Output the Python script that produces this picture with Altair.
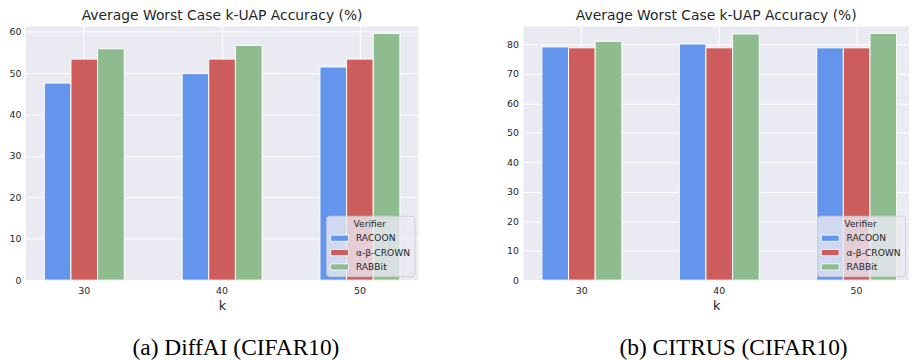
import altair as alt
import pandas as pd

# ---- data ----
k_values = ["30", "40", "50"]
verifiers = ["RACOON", "α-β-CROWN", "RABBit"]
colors = ["#6495ED", "#CD5C5C", "#8FBC8F"]

diffai_racoon = [47.6, 49.9, 51.5]
diffai_crown = [53.4, 53.4, 53.4]
diffai_rabbit = [55.9, 56.7, 59.6]

citrus_racoon = [79.1, 80.1, 78.8]
citrus_crown = [78.8, 78.8, 78.8]
citrus_rabbit = [81.0, 83.5, 83.7]

title_text = "Average Worst Case k-UAP Accuracy (%)"
caption_a = "(a) DiffAI (CIFAR10)"
caption_b = "(b) CITRUS (CIFAR10)"
yticks_a = [0, 10, 20, 30, 40, 50, 60]
yticks_b = [0, 10, 20, 30, 40, 50, 60, 70, 80]

TXT = "#262626"
BG = "#EAEAF2"
FONT = "DejaVu Sans"
H = 256


def make_df(racoon, crown, rabbit):
    rows = []
    for i, k in enumerate(k_values):
        for v, vals in zip(verifiers, [racoon, crown, rabbit]):
            rows.append({"k": k, "Verifier": v, "acc": vals[i]})
    return pd.DataFrame(rows)


def panel(df, ymax, yticks, width, pad_outer, align, caption, cap_x):
    x_scale = alt.Scale(domain=k_values, paddingInner=0.42,
                        paddingOuter=pad_outer, align=align)
    bars = alt.Chart(df).mark_bar(stroke="white", strokeWidth=1).encode(
        x=alt.X("k:N", scale=x_scale, sort=k_values,
                axis=alt.Axis(title="k", labelAngle=0, bandPosition=0.5,
                              labelPadding=5, titlePadding=5,
                              titleFontSize=13, titleFontWeight="normal")),
        xOffset=alt.XOffset("Verifier:N", sort=verifiers,
                            scale=alt.Scale(domain=verifiers, paddingInner=0,
                                            paddingOuter=0)),
        y=alt.Y("acc:Q", scale=alt.Scale(domain=[0, ymax], nice=False, zero=True),
                axis=alt.Axis(title=None, values=yticks, labelPadding=5)),
        color=alt.Color(
            "Verifier:N", sort=verifiers,
            scale=alt.Scale(domain=verifiers, range=colors),
            legend=alt.Legend(
                title="Verifier", orient="bottom-right", offset=4,
                fillColor="rgba(234,234,242,0.8)",
                strokeColor="rgba(204,204,204,0.8)",
                padding=4, cornerRadius=3,
                titleFont=FONT, titleFontSize=9.2, titleFontWeight="normal",
                titleColor=TXT, titleAnchor="middle", titlePadding=4,
                labelFont=FONT, labelFontSize=9.2, labelColor=TXT,
                symbolType="M-1,-0.62H2.6V0.62H-1Z", symbolSize=100,
                symbolStrokeColor="white", symbolStrokeWidth=0.8,
                symbolOpacity=1, labelOffset=15, rowPadding=3.5,
            ),
        ),
    )
    cap = alt.Chart(pd.DataFrame({"caption": [caption]})).mark_text(
        font="Liberation Serif", fontSize=23.6, color="black",
        align="center", baseline="alphabetic",
    ).encode(text="caption:N", x=alt.value(cap_x), y=alt.value(H + 76))
    return alt.layer(bars, cap).properties(
        width=width, height=H,
        title=alt.Title(title_text, font=FONT, fontSize=14,
                        fontWeight="normal", color=TXT, offset=3,
                        anchor="middle"),
    )


left = panel(make_df(diffai_racoon, diffai_crown, diffai_rabbit),
             61.3, yticks_a, 396, 0.134, 0.5, caption_a, 212)
right = panel(make_df(citrus_racoon, citrus_crown, citrus_rabbit),
              86.06, yticks_b, 389, 0.113, 0.595, caption_b, 212)

chart = alt.hconcat(left, right, spacing=88).resolve_scale(
    color="independent", x="independent", y="independent"
).resolve_legend(color="independent").properties(
    padding=0, background="white"
).configure_view(
    fill=BG, stroke=None
).configure_axis(
    grid=True, gridColor="white", gridWidth=1, gridOpacity=1,
    domain=False, ticks=False,
    labelFont=FONT, labelFontSize=9.5, labelColor=TXT,
    titleFont=FONT, titleColor=TXT,
)

chart.save("out.html", embed_options={"renderer": "svg", "actions": False})
